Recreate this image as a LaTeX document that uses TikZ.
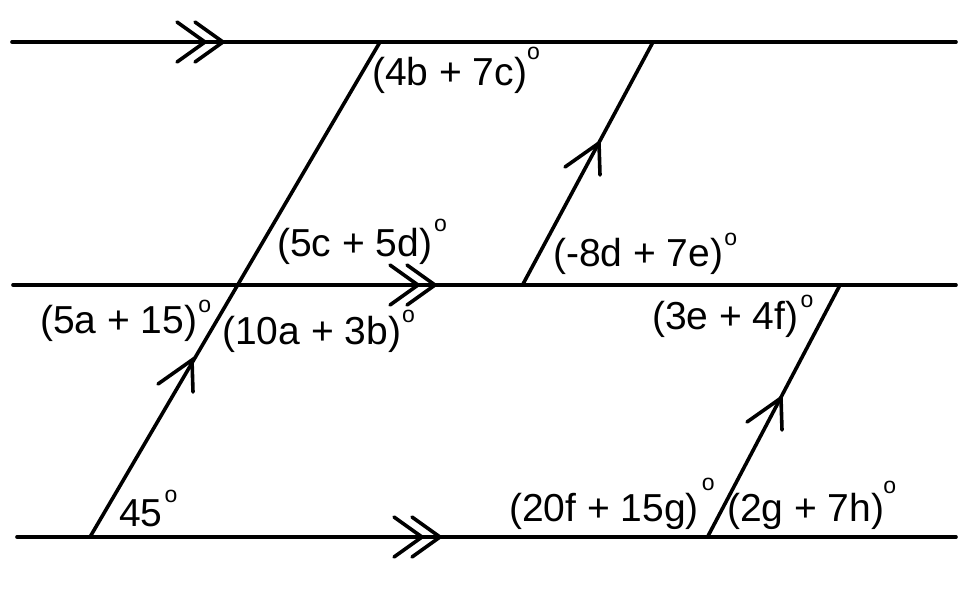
\documentclass[tikz,border=0pt]{standalone}
\usepackage{fontspec}
\setmainfont{Liberation Sans}
\usetikzlibrary{calc}
\newcommand{\dg}[2][1pt]{\kern#1\raisebox{#2}{\fontsize{23}{23}\selectfont o}}
\tikzset{
  ln/.style={line width=3.6pt, line cap=round, line join=miter},
  lbl/.style={anchor=base west, inner sep=0pt, font=\fontsize{39}{42}\selectfont}
}
\begin{document}
\begin{tikzpicture}[x=1pt,y=-1pt]
\useasboundingbox (0,0) rectangle (958,590);
% horizontal lines
\coordinate (t0) at (12,42);  \coordinate (t1) at (956,42);
\coordinate (m0) at (13,285); \coordinate (m1) at (956,285);
\coordinate (b0) at (17,537); \coordinate (b1) at (956,537);
% transversals
\coordinate (p1b) at (90,537);  \coordinate (p1t) at (380,42);
\coordinate (p2b) at (522.5,285); \coordinate (p2t) at (653,42);
\coordinate (p3b) at (707.5,537); \coordinate (p3t) at (840,285);
\draw[ln] (t0) -- (t1);
\draw[ln] (m0) -- (m1);
\draw[ln] (b0) -- (b1);
\draw[ln] (p1b) -- (p1t);
\draw[ln] (p2b) -- (p2t);
\draw[ln] (p3b) -- (p3t);
% double chevrons
\foreach \n/\x/\y in {ta/205/42, tb/223/42, ma/418/285, mb/435/285, ba/422/537, bb/440/537}{
  \coordinate (c\n) at (\x,\y);
  \draw[ln] (c\n) ++(-28,-20) -- (c\n) -- ++(-28,20);
}
% single arrows on transversals
\foreach \n/\x/\y in {s1/192/360, s2/599/143, s3/781/398}{
  \coordinate (a\n) at (\x,\y);
  \draw[ln] (a\n) ++(-34,24) -- (a\n) -- ++(1,32);
}
% labels
\node[lbl] (l1) at (372,85)  {(4b + 7c)\dg[0pt]{26pt}};
\node[lbl] (l2) at (277,256) {(5c + 5d)\dg[2pt]{25pt}};
\node[lbl] (l3) at (553,266) {(-8d + 7e)\dg[1pt]{21pt}};
\node[lbl] (l4) at (40,333)  {(5a + 15)\dg[1pt]{21pt}};
\node[lbl] (l5) at (222,344) {(10a + 3b)\dg[1pt]{22pt}};
\node[lbl] (l6) at (119,526) {45\dg[2pt]{24pt}};
\node[lbl] (l7) at (652,329) {(3e + 4f)\dg[2pt]{22pt}};
\node[lbl] (l8) at (509,521) {(20f + 15g)\dg[3pt]{31pt}};
\node[lbl] (l9) at (727,521) {(2g + 7h)\dg[-1pt]{28pt}};
\end{tikzpicture}
\end{document}
